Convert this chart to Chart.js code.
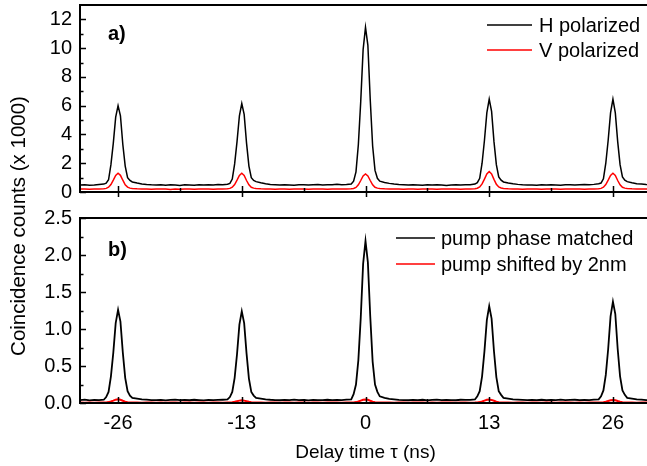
<!DOCTYPE html>
<html>
<head>
<meta charset="utf-8">
<script src="https://cdn.jsdelivr.net/npm/chart.js@4.4.0/dist/chart.umd.min.js"></script>
<style>
  html, body { margin: 0; padding: 0; background: #fff; overflow: hidden; }
  #wrap { position: relative; width: 647px; height: 466px; overflow: hidden; }
  canvas { position: absolute; left: 0; top: 0; }
</style>
</head>
<body>
<div id="wrap">
  <canvas id="topChart" width="660" height="466"></canvas>
  <canvas id="bottomChart" width="660" height="466"></canvas>
</div>
<script>
// delay time tau (ns), shared by all four traces
const delay = [
  -30, -29.5, -29, -28.5, -28, -27.5,
  -27.25, -27, -26.75, -26.5, -26.25, -26, -25.75, -25.5, -25.25, -25, -24.75, -24.5,
  -24, -23.5, -23, -22.5, -22, -21.5, -21, -20.5, -20, -19.5, -19, -18.5, -18, -17.5, -17, -16.5, -16, -15.5, -15, -14.5,
  -14.25, -14, -13.75, -13.5, -13.25, -13, -12.75, -12.5, -12.25, -12, -11.75, -11.5,
  -11, -10.5, -10, -9.5, -9, -8.5, -8, -7.5, -7, -6.5, -6, -5.5, -5, -4.5, -4, -3.5, -3, -2.5, -2, -1.5,
  -1.25, -1, -0.75, -0.5, -0.25, 0, 0.25, 0.5, 0.75, 1, 1.25, 1.5,
  2, 2.5, 3, 3.5, 4, 4.5, 5, 5.5, 6, 6.5, 7, 7.5, 8, 8.5, 9, 9.5, 10, 10.5, 11, 11.5,
  11.75, 12, 12.25, 12.5, 12.75, 13, 13.25, 13.5, 13.75, 14, 14.25, 14.5,
  15, 15.5, 16, 16.5, 17, 17.5, 18, 18.5, 19, 19.5, 20, 20.5, 21, 21.5, 22, 22.5, 23, 23.5, 24, 24.5,
  24.75, 25, 25.25, 25.5, 25.75, 26, 26.25, 26.5, 26.75, 27, 27.25, 27.5,
  28, 28.5, 29, 29.5, 30
];

// panel a) counts (x 1000)
const hPol = [
  0.48, 0.5, 0.47, 0.49, 0.52, 0.55,
  0.62, 0.85, 1.9, 3.4, 5.2, 6.0, 5.3, 3.3, 1.8, 1.0, 0.8, 0.7,
  0.62, 0.56, 0.52, 0.5, 0.49, 0.51, 0.47, 0.5, 0.48, 0.46, 0.5, 0.49, 0.47, 0.5, 0.48, 0.51, 0.49, 0.52, 0.5, 0.54,
  0.6, 0.9, 1.95, 3.5, 5.3, 6.15, 5.4, 3.4, 1.8, 1.0, 0.8, 0.72,
  0.64, 0.57, 0.52, 0.5, 0.48, 0.5, 0.49, 0.47, 0.5, 0.51, 0.48, 0.5, 0.52, 0.49, 0.5, 0.51, 0.53, 0.5, 0.52, 0.56,
  0.75, 1.4, 3.3, 6.3, 9.9, 11.45, 10.2, 6.4, 3.2, 1.5, 0.95, 0.75,
  0.66, 0.6, 0.55, 0.52, 0.5, 0.48, 0.5, 0.49, 0.47, 0.5, 0.48, 0.5, 0.49, 0.46, 0.48, 0.5, 0.49, 0.51, 0.5, 0.55,
  0.65, 0.95, 2.0, 3.6, 5.5, 6.45, 5.6, 3.5, 1.9, 1.05, 0.82, 0.7,
  0.63, 0.57, 0.53, 0.5, 0.48, 0.49, 0.47, 0.5, 0.48, 0.5, 0.49, 0.47, 0.5, 0.51, 0.48, 0.5, 0.52, 0.5, 0.53, 0.57,
  0.62, 0.92, 2.0, 3.6, 5.5, 6.45, 5.5, 3.5, 1.9, 1.05, 0.82, 0.72,
  0.64, 0.58, 0.55, 0.52, 0.5
];
const vPol = [
  0.2, 0.21, 0.19, 0.2, 0.21, 0.22,
  0.25, 0.33, 0.52, 0.82, 1.15, 1.3, 1.16, 0.82, 0.5, 0.34, 0.27, 0.24,
  0.22, 0.21, 0.2, 0.19, 0.2, 0.21, 0.2, 0.18, 0.2, 0.19, 0.21, 0.2, 0.19, 0.2, 0.21, 0.2, 0.19, 0.2, 0.21, 0.22,
  0.25, 0.33, 0.52, 0.82, 1.15, 1.3, 1.15, 0.8, 0.5, 0.33, 0.27, 0.24,
  0.22, 0.21, 0.2, 0.19, 0.2, 0.21, 0.19, 0.2, 0.2, 0.21, 0.19, 0.2, 0.21, 0.2, 0.19, 0.2, 0.21, 0.2, 0.21, 0.22,
  0.25, 0.32, 0.5, 0.8, 1.12, 1.26, 1.12, 0.8, 0.5, 0.33, 0.27, 0.24,
  0.22, 0.21, 0.2, 0.2, 0.19, 0.2, 0.21, 0.19, 0.2, 0.2, 0.21, 0.19, 0.2, 0.2, 0.21, 0.2, 0.19, 0.2, 0.21, 0.22,
  0.26, 0.35, 0.56, 0.9, 1.25, 1.42, 1.26, 0.88, 0.54, 0.35, 0.28, 0.24,
  0.22, 0.21, 0.2, 0.19, 0.2, 0.2, 0.21, 0.19, 0.2, 0.21, 0.2, 0.19, 0.2, 0.21, 0.2, 0.2, 0.19, 0.21, 0.21, 0.22,
  0.25, 0.33, 0.52, 0.82, 1.15, 1.3, 1.15, 0.8, 0.5, 0.33, 0.27, 0.24,
  0.22, 0.21, 0.2, 0.2, 0.21
];

// panel b) counts (x 1000)
const pumpMatched = [
  0.04, 0.045, 0.035, 0.042, 0.038, 0.044,
  0.08, 0.15, 0.36, 0.68, 1.08, 1.26, 1.1, 0.68, 0.34, 0.16, 0.1, 0.07,
  0.06, 0.05, 0.045, 0.04, 0.038, 0.043, 0.036, 0.041, 0.045, 0.039, 0.042, 0.037, 0.044, 0.04, 0.036, 0.043, 0.039, 0.041, 0.044, 0.048,
  0.08, 0.15, 0.34, 0.66, 1.06, 1.24, 1.08, 0.67, 0.33, 0.15, 0.1, 0.07,
  0.06, 0.05, 0.044, 0.04, 0.037, 0.042, 0.039, 0.045, 0.038, 0.041, 0.036, 0.043, 0.04, 0.038, 0.044, 0.04, 0.042, 0.039, 0.045, 0.05,
  0.12, 0.25, 0.58, 1.15, 1.88, 2.19, 1.9, 1.17, 0.56, 0.25, 0.15, 0.09,
  0.07, 0.055, 0.048, 0.042, 0.04, 0.037, 0.043, 0.039, 0.044, 0.036, 0.041, 0.045, 0.038, 0.042, 0.04, 0.037, 0.044, 0.041, 0.043, 0.048,
  0.09, 0.16, 0.36, 0.7, 1.12, 1.31, 1.14, 0.7, 0.35, 0.16, 0.11, 0.07,
  0.06, 0.05, 0.045, 0.041, 0.038, 0.043, 0.039, 0.044, 0.037, 0.042, 0.04, 0.045, 0.038, 0.041, 0.044, 0.039, 0.042, 0.04, 0.045, 0.05,
  0.09, 0.17, 0.38, 0.73, 1.17, 1.37, 1.2, 0.73, 0.36, 0.17, 0.11, 0.07,
  0.06, 0.05, 0.045, 0.04, 0.043
];
const pumpShifted = [
  0.006, 0.005, 0.007, 0.005, 0.006, 0.007,
  0.008, 0.012, 0.02, 0.032, 0.045, 0.05, 0.044, 0.03, 0.018, 0.011, 0.008, 0.007,
  0.006, 0.005, 0.006, 0.007, 0.005, 0.006, 0.005, 0.007, 0.006, 0.005, 0.006, 0.007, 0.005, 0.006, 0.006, 0.005, 0.007, 0.006, 0.005, 0.006,
  0.007, 0.01, 0.016, 0.024, 0.032, 0.036, 0.032, 0.024, 0.016, 0.01, 0.008, 0.007,
  0.006, 0.005, 0.007, 0.006, 0.005, 0.006, 0.007, 0.005, 0.006, 0.006, 0.005, 0.007, 0.006, 0.005, 0.006, 0.007, 0.006, 0.005, 0.006, 0.007,
  0.008, 0.012, 0.02, 0.032, 0.044, 0.048, 0.043, 0.03, 0.018, 0.011, 0.008, 0.007,
  0.006, 0.006, 0.005, 0.007, 0.006, 0.005, 0.006, 0.006, 0.007, 0.005, 0.006, 0.005, 0.007, 0.006, 0.006, 0.005, 0.006, 0.007, 0.005, 0.006,
  0.008, 0.012, 0.02, 0.032, 0.043, 0.047, 0.042, 0.03, 0.018, 0.011, 0.008, 0.007,
  0.006, 0.005, 0.006, 0.007, 0.005, 0.006, 0.006, 0.005, 0.007, 0.006, 0.005, 0.006, 0.006, 0.007, 0.005, 0.006, 0.005, 0.006, 0.007, 0.006,
  0.008, 0.011, 0.018, 0.028, 0.038, 0.042, 0.038, 0.027, 0.017, 0.01, 0.008, 0.007,
  0.006, 0.005, 0.006, 0.007, 0.006
];

// ticks
const xTickLabels = [-26, -13, 0, 13, 26];
const xMinorTicks = [-19.5, -6.5, 6.5, 19.5];
const topYTicks = [0, 2, 4, 6, 8, 10, 12];
const topYMinor = [1, 3, 5, 7, 9, 11];
const bottomYTicks = [0, 0.5, 1.0, 1.5, 2.0, 2.5];
const bottomYMinor = [0.25, 0.75, 1.25, 1.75, 2.25];

const FONT = '"Liberation Sans", Arial, Helvetica, sans-serif';

function toPoints(ys) {
  return delay.map((x, i) => ({x: x, y: ys[i]}));
}

function noPad(s) {
  s.paddingTop = 0; s.paddingBottom = 0; s.paddingLeft = 0; s.paddingRight = 0;
}

function panelDecor(opts) {
  return {
    id: 'panelDecor',
    afterDatasetsDraw(chart) {
      const ctx = chart.ctx;
      const a = chart.chartArea;
      const x = chart.scales.x;
      const y = chart.scales.y;
      ctx.save();
      ctx.strokeStyle = '#000';
      ctx.lineWidth = 2;
      ctx.strokeRect(a.left, a.top, a.right - a.left, a.bottom - a.top);

      ctx.lineWidth = 1.5;
      ctx.beginPath();
      opts.yMajor.forEach(v => {
        const py = Math.round(y.getPixelForValue(v)) + 0.5;
        ctx.moveTo(a.left, py); ctx.lineTo(a.left + 6, py);
      });
      opts.yMinor.forEach(v => {
        const py = Math.round(y.getPixelForValue(v)) + 0.5;
        ctx.moveTo(a.left, py); ctx.lineTo(a.left + 3.5, py);
      });
      xTickLabels.forEach(v => {
        const px = Math.round(x.getPixelForValue(v)) + 0.5;
        ctx.moveTo(px, a.bottom - 6); ctx.lineTo(px, a.bottom + opts.tickOut);
      });
      xMinorTicks.forEach(v => {
        const px = Math.round(x.getPixelForValue(v)) + 0.5;
        ctx.moveTo(px, a.bottom - 4); ctx.lineTo(px, a.bottom);
      });
      ctx.stroke();

      ctx.fillStyle = '#000';
      ctx.font = 'bold 20px ' + FONT;
      ctx.textAlign = 'left';
      ctx.textBaseline = 'middle';
      ctx.fillText(opts.panel, 108, opts.panelY);

      ctx.font = '20px ' + FONT;
      chart.data.datasets.slice().reverse().forEach((ds, i) => {
        const ly = opts.legendY[i];
        ctx.strokeStyle = ds.borderColor;
        ctx.lineWidth = 1.5;
        ctx.beginPath();
        ctx.moveTo(opts.legendLine[0], ly);
        ctx.lineTo(opts.legendLine[1], ly);
        ctx.stroke();
        ctx.fillStyle = '#000';
        ctx.fillText(ds.label, opts.legendText, ly + 1);
      });

      if (opts.yTitle) {
        ctx.font = '20.5px ' + FONT;
        ctx.translate(19, 226);
        ctx.rotate(-Math.PI / 2);
        ctx.textAlign = 'center';
        ctx.fillText(opts.yTitle, 0, 0);
      }
      ctx.restore();
    }
  };
}

function baseOptions(yMax, yTicks, fmt, padding) {
  return {
    responsive: false,
    animation: false,
    devicePixelRatio: 1,
    layout: {padding: padding},
    plugins: {legend: {display: false}, tooltip: {enabled: false}},
    elements: {point: {radius: 0}, line: {tension: 0}},
    scales: {
      x: {type: 'linear', min: -30, max: 30, display: false},
      y: {
        min: 0, max: yMax,
        afterBuildTicks: s => { s.ticks = yTicks.map(v => ({value: v})); },
        afterFit: s => { s.width = 80; noPad(s); },
        grid: {display: false, drawTicks: false},
        border: {display: false},
        ticks: {color: '#000', padding: 8, font: {family: FONT, size: 20}, callback: fmt}
      }
    }
  };
}

// panel a)
const topOpts = baseOptions(13, topYTicks, v => String(v), {left: 0, right: 9, top: 5, bottom: 274});
new Chart(document.getElementById('topChart'), {
  type: 'line',
  data: {
    datasets: [
      {label: 'V polarized', data: toPoints(vPol), borderColor: '#ff0000', borderWidth: 1.5},
      {label: 'H polarized', data: toPoints(hPol), borderColor: '#000000', borderWidth: 1.5}
    ]
  },
  options: topOpts,
  plugins: [panelDecor({
    panel: 'a)', panelY: 34,
    yMajor: topYTicks, yMinor: topYMinor, tickOut: 5,
    legendY: [25, 50], legendLine: [487, 532], legendText: 539
  })]
});

// panel b)
const bottomOpts = baseOptions(2.5, bottomYTicks, v => Number(v).toFixed(1), {left: 0, right: 9, top: 218, bottom: 0});
bottomOpts.scales.x = {
  type: 'linear', min: -30, max: 30,
  afterBuildTicks: s => { s.ticks = xTickLabels.map(v => ({value: v})); },
  afterFit: s => { s.height = 63; noPad(s); },
  grid: {display: false, drawTicks: false},
  border: {display: false},
  ticks: {color: '#000', padding: 8, maxRotation: 0, font: {family: FONT, size: 20}},
  title: {display: true, text: 'Delay time τ (ns)', color: '#000', font: {family: FONT, size: 19}, padding: {top: 0, bottom: 2}}
};
new Chart(document.getElementById('bottomChart'), {
  type: 'line',
  data: {
    datasets: [
      {label: 'pump shifted by 2nm', data: toPoints(pumpShifted), borderColor: '#ff0000', borderWidth: 2},
      {label: 'pump phase matched', data: toPoints(pumpMatched), borderColor: '#000000', borderWidth: 1.8}
    ]
  },
  options: bottomOpts,
  plugins: [panelDecor({
    panel: 'b)', panelY: 250,
    yMajor: bottomYTicks, yMinor: bottomYMinor, tickOut: 0,
    legendY: [238, 264], legendLine: [396, 435], legendText: 441,
    yTitle: 'Coincidence counts (x 1000)'
  })]
});
</script>
</body>
</html>
